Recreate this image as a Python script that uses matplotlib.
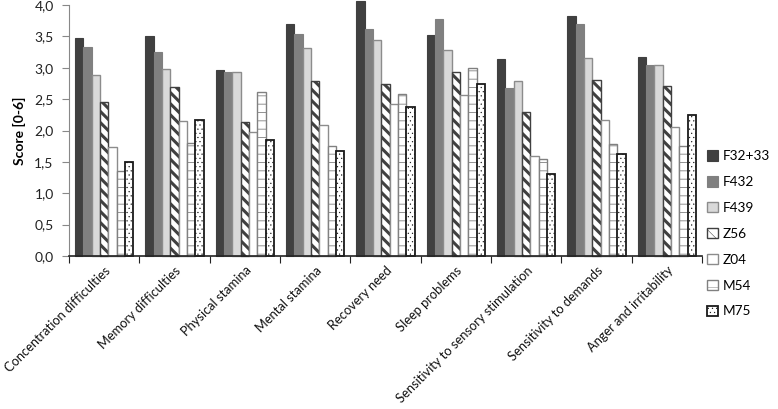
import matplotlib
matplotlib.use("Agg")
import matplotlib.pyplot as plt
import numpy as np

categories = ["Concentration difficulties", "Memory difficulties", "Physical stamina",
              "Mental stamina", "Recovery need", "Sleep problems",
              "Sensitivity to sensory stimulation", "Sensitivity to demands",
              "Anger and irritability"]
series_names = ["F32+33", "F432", "F439", "Z56", "Z04", "M54", "M75"]
f32_33 = [3.47, 3.50, 2.97, 3.70, 4.06, 3.52, 3.14, 3.83, 3.17]
f432   = [3.33, 3.25, 2.93, 3.54, 3.62, 3.77, 2.67, 3.70, 3.05]
f439   = [2.88, 2.98, 2.93, 3.32, 3.45, 3.29, 2.79, 3.15, 3.05]
z56    = [2.45, 2.69, 2.14, 2.79, 2.74, 2.93, 2.30, 2.80, 2.71]
z04    = [1.73, 2.15, 1.97, 2.08, 2.42, 2.57, 1.59, 2.17, 2.06]
m54    = [1.35, 1.80, 2.62, 1.76, 2.58, 3.00, 1.55, 1.79, 1.76]
m75    = [1.50, 2.17, 1.85, 1.68, 2.38, 2.74, 1.30, 1.62, 2.24]
y_ticks = [0.0, 0.5, 1.0, 1.5, 2.0, 2.5, 3.0, 3.5, 4.0]
y_tick_labels = ["0,0", "0,5", "1,0", "1,5", "2,0", "2,5", "3,0", "3,5", "4,0"]

series = [f32_33, f432, f439, z56, z04, m54, m75]
styles = [
    dict(facecolor="#404040", edgecolor="#404040", hatch=None, lw=0.8, hlw=1.0),
    dict(facecolor="#808080", edgecolor="#808080", hatch=None, lw=0.8, hlw=1.0),
    dict(facecolor="#d9d9d9", edgecolor="#8c8c8c", hatch=None, lw=1.0, hlw=1.0),
    dict(facecolor="white", edgecolor="#404040", hatch="\\\\\\", lw=1.0, hlw=2.2),
    dict(facecolor="white", edgecolor="#8c8c8c", hatch=None, lw=1.0, hlw=1.0),
    dict(facecolor="white", edgecolor="#808080", hatch="--", lw=1.0, hlw=0.6),
    dict(facecolor="white", edgecolor="#1a1a1a", hatch="....", lw=1.3, hlw=0.35),
]

plt.rcParams["font.family"] = ["Lato", "DejaVu Sans"]

fig = plt.figure(figsize=(7.78, 4.09), dpi=100)
ax = fig.add_axes([69 / 778, 1 - 256 / 409, (702 - 69) / 778, (256 - 5) / 409])

n = len(series)
group = 0.826
bw = group / n
x = np.arange(len(categories))
handles = []
for i, (vals, st) in enumerate(zip(series, styles)):
    plt.rcParams["hatch.linewidth"] = st["hlw"]
    pos = x + 0.5 - group / 2 + bw * (i + 0.5)
    bars = ax.bar(pos, vals, width=bw, facecolor=st["facecolor"],
                  edgecolor=st["edgecolor"], hatch=st["hatch"], linewidth=st["lw"],
                  label=series_names[i], clip_on=False)
    for b in bars:
        if hasattr(b, "set_hatch_linewidth"):
            b.set_hatch_linewidth(st["hlw"])
    handles.append(bars)

ax.set_xlim(0, len(categories))
ax.set_ylim(0, 4.0)
ax.set_yticks(y_ticks)
ax.set_yticklabels(y_tick_labels, fontsize=10, color="#222222")
ax.set_xticks(np.arange(len(categories) + 1))
ax.set_xticklabels([])
ax.set_xticks(x + 0.5, minor=True)
ax.set_xticklabels(categories, minor=True, rotation=45, ha="right",
                   rotation_mode="anchor", fontsize=9.3, color="#111111")
ax.tick_params(axis="x", which="minor", length=0, pad=6)
ax.tick_params(axis="x", which="major", length=5, direction="out", color="#222222")
ax.tick_params(axis="y", length=5, direction="out", color="#888888", pad=6)
for s in ["top", "right"]:
    ax.spines[s].set_visible(False)
ax.spines["left"].set_color("#888888")
ax.spines["bottom"].set_color("#222222")
ax.spines["bottom"].set_linewidth(1.2)

ax.set_ylabel("Score [0-6]", fontsize=10, fontweight="bold", labelpad=6)

leg = fig.legend(handles=handles, labels=series_names, loc="upper left",
                 bbox_to_anchor=(699 / 778, 1 - 142 / 409), frameon=False,
                 fontsize=9.8, handlelength=0.8, handleheight=0.8,
                 handletextpad=0.35, labelspacing=1.02, borderaxespad=0.2)

fig.savefig("out.png", dpi=100)
